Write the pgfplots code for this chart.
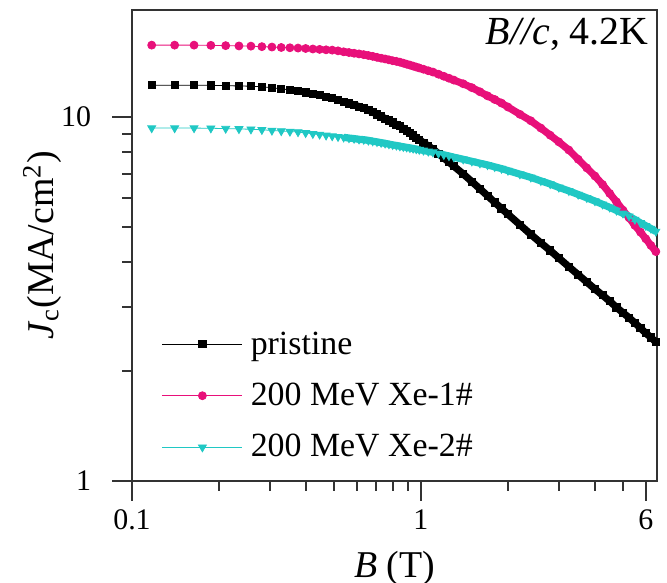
\documentclass[border=0pt]{standalone}
\usepackage{fontspec}
\setmainfont{Liberation Serif}
\usepackage{pgfplots}
\pgfplotsset{compat=1.18}
\usepackage{pgfplotstable}
\definecolor{pinkc}{RGB}{232,16,122}
\definecolor{cyanc}{RGB}{32,200,196}
\pgfplotstableread{
B P X1 X2
0.117 12.24 15.77 9.33
0.1405 12.24 15.77 9.33
0.164 12.24 15.77 9.33
0.1875 12.23 15.75 9.32
0.211 12.20 15.72 9.30
0.2345 12.18 15.69 9.28
0.258 12.16 15.67 9.26
0.2815 12.12 15.62 9.23
0.305 12.04 15.58 9.19
0.3285 11.96 15.54 9.16
0.352 11.88 15.51 9.13
0.3755 11.80 15.48 9.10
0.399 11.70 15.44 9.05
0.4225 11.59 15.39 9.00
0.446 11.49 15.35 8.96
0.4695 11.39 15.31 8.91
0.493 11.29 15.28 8.87
0.5165 11.17 15.21 8.83
0.540 11.03 15.12 8.80
0.5635 10.91 15.05 8.76
0.587 10.80 14.98 8.73
0.6105 10.69 14.92 8.69
0.634 10.59 14.85 8.67
0.6575 10.47 14.77 8.63
0.681 10.32 14.69 8.59
0.7045 10.18 14.60 8.55
0.728 10.04 14.52 8.51
0.7515 9.91 14.45 8.47
0.775 9.79 14.37 8.43
0.7985 9.67 14.29 8.39
0.822 9.54 14.23 8.36
0.8455 9.45 14.16 8.32
0.869 9.30 14.07 8.29
0.8925 9.17 13.98 8.26
0.916 9.04 13.90 8.23
0.9395 8.91 13.81 8.20
0.963 8.79 13.73 8.17
0.9865 8.67 13.65 8.14
1.02 8.51 13.54 8.10
1.06 8.33 13.41 8.05
1.10 8.17 13.30 8.01
1.15 7.94 13.12 7.95
1.20 7.72 12.95 7.88
1.25 7.52 12.79 7.82
1.30 7.33 12.64 7.76
1.40 6.98 12.35 7.66
1.50 6.65 12.05 7.56
1.60 6.35 11.74 7.47
1.70 6.08 11.44 7.39
1.80 5.83 11.18 7.30
1.90 5.61 10.93 7.22
2.00 5.41 10.66 7.13
2.20 5.06 10.18 6.97
2.40 4.76 9.77 6.83
2.60 4.51 9.33 6.68
2.80 4.30 8.92 6.55
3.00 4.10 8.55 6.41
3.25 3.88 8.12 6.27
3.50 3.69 7.66 6.13
3.75 3.52 7.25 6.00
4.00 3.37 6.89 5.88
4.25 3.24 6.53 5.76
4.50 3.12 6.17 5.65
4.75 3.00 5.85 5.54
5.00 2.90 5.55 5.44
5.25 2.81 5.29 5.34
5.50 2.72 5.04 5.23
5.75 2.63 4.83 5.12
6.00 2.55 4.63 5.03
6.25 2.48 4.44 4.94
6.50 2.41 4.27 4.85
}\datatable

\begin{document}
\begin{tikzpicture}
\begin{axis}[
  scale only axis, width=262.5bp, height=235.5bp,
  xmode=log, ymode=log,
  xmin=0.1, xmax=6.56, ymin=1, ymax=19.7,
  xtick={0.1,1,6}, xticklabels={0.1,1,6},
  minor xtick={0.2,0.3,0.4,0.5,0.6,0.7,0.8,0.9,2,3,4,5},
  ytick={1,10}, yticklabels={1,10},
  minor ytick={2,3,4,5,6,7,8,9},
  tick align=outside, xtick pos=bottom, ytick pos=left,
  major tick length=10bp, minor tick length=5bp,
  axis line style={line width=1bp, draw=black!80},
  every tick/.style={line width=1bp, black!80},
  tick label style={font=\fontsize{15}{18}\selectfont},
  yticklabel style={xshift=-7bp},
  xticklabel style={yshift=-1bp},
  xlabel={\textit{B} (T)},
  ylabel={\textit{J}\textsubscript{c}(MA/cm\textsuperscript{2})},
  label style={font=\fontsize{19}{23}\selectfont},
  xlabel style={at={(axis description cs:0.5,-0.185)}, anchor=center},
  ylabel style={at={(axis description cs:-0.171,0.5)}, anchor=center},
  legend style={at={(0.045,0.335)}, anchor=north west, draw=none, fill=none,
    font=\fontsize{17}{20}\selectfont, row sep=9bp, column sep=2bp, cells={anchor=west}},
  legend image code/.code={\draw[mark repeat=2,mark phase=2] plot coordinates {(0bp,0bp)(20bp,0bp)(40bp,0bp)};},
]
\coordinate (sw) at (rel axis cs:0,0);
\coordinate (ne) at (rel axis cs:1,1);
\addplot[forget plot, black, line width=3.6bp, skip coords between index={0}{18}] table[x=B,y=P]{\datatable};
\addplot[black, line width=0.4bp, mark=square*, mark size=1.8bp] table[x=B,y=P]{\datatable};
\addlegendentry{pristine}
\addplot[forget plot, pinkc, line width=3.6bp, skip coords between index={0}{18}] table[x=B,y=X1]{\datatable};
\addplot[pinkc, line width=0.4bp, mark=*, mark size=2bp] table[x=B,y=X1]{\datatable};
\addlegendentry{200 MeV Xe-1\#}
\addplot[forget plot, cyanc, line width=3.6bp, skip coords between index={0}{18}] table[x=B,y=X2]{\datatable};
\addplot[cyanc, line width=0.4bp, mark=triangle*, mark size=2.3bp, mark options={rotate=180}] table[x=B,y=X2]{\datatable};
\addlegendentry{200 MeV Xe-2\#}
\node[anchor=north east, inner sep=0pt, xshift=-4bp, yshift=-4bp, font=\fontsize{20}{24}\selectfont] at (rel axis cs:1,1) {\textit{B//c}, 4.2K};
\end{axis}
\pgfresetboundingbox
\path[use as bounding box] ([xshift=-66bp,yshift=-51bp]sw) rectangle ([xshift=5bp,yshift=5bp]ne);
\end{tikzpicture}
\end{document}
